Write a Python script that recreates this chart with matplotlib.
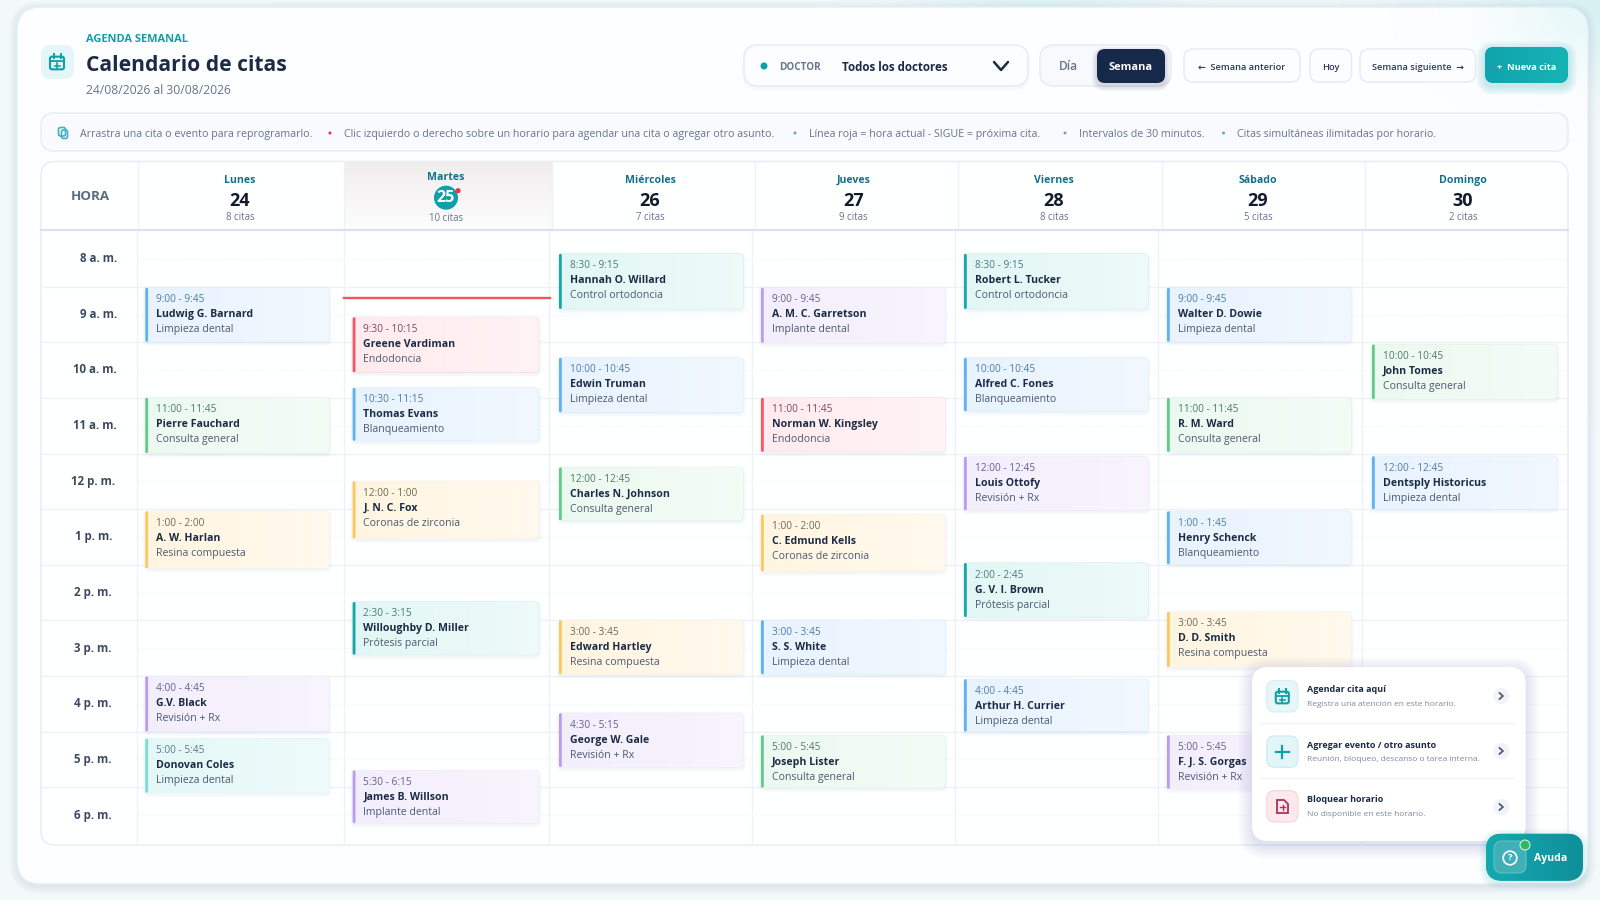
import numpy as np
import matplotlib
matplotlib.use("Agg")
import matplotlib.pyplot as plt
from matplotlib.patches import FancyBboxPatch, Circle, Polygon
from matplotlib.colors import LinearSegmentedColormap, to_rgb

plt.rcParams['font.family'] = ['Open Sans', 'DejaVu Sans']

# header of the week
day_names = ["Lunes", "Martes", "Miércoles", "Jueves", "Viernes", "Sábado", "Domingo"]
day_numbers = ["24", "25", "26", "27", "28", "29", "30"]
day_counts = ["8 citas", "10 citas", "7 citas", "9 citas", "8 citas", "5 citas", "2 citas"]
hour_labels = ["8 a. m.", "9 a. m.", "10 a. m.", "11 a. m.", "12 p. m.", "1 p. m.", "2 p. m.",
               "3 p. m.", "4 p. m.", "5 p. m.", "6 p. m."]

card_day = [0, 0, 0, 0, 0,
            1, 1, 1, 1, 1,
            2, 2, 2, 2, 2,
            3, 3, 3, 3, 3,
            4, 4, 4, 4, 4,
            5, 5, 5, 5, 5,
            6, 6]
card_time = ["9:00 - 9:45", "11:00 - 11:45", "1:00 - 2:00", "4:00 - 4:45", "5:00 - 5:45",
             "9:30 - 10:15", "10:30 - 11:15", "12:00 - 1:00", "2:30 - 3:15", "5:30 - 6:15",
             "8:30 - 9:15", "10:00 - 10:45", "12:00 - 12:45", "3:00 - 3:45", "4:30 - 5:15",
             "9:00 - 9:45", "11:00 - 11:45", "1:00 - 2:00", "3:00 - 3:45", "5:00 - 5:45",
             "8:30 - 9:15", "10:00 - 10:45", "12:00 - 12:45", "2:00 - 2:45", "4:00 - 4:45",
             "9:00 - 9:45", "11:00 - 11:45", "1:00 - 1:45", "3:00 - 3:45", "5:00 - 5:45",
             "10:00 - 10:45", "12:00 - 12:45"]
card_name = ["Ludwig G. Barnard", "Pierre Fauchard", "A. W. Harlan", "G.V. Black", "Donovan Coles",
             "Greene Vardiman", "Thomas Evans", "J. N. C. Fox", "Willoughby D. Miller", "James B. Willson",
             "Hannah O. Willard", "Edwin Truman", "Charles N. Johnson", "Edward Hartley", "George W. Gale",
             "A. M. C. Garretson", "Norman W. Kingsley", "C. Edmund Kells", "S. S. White", "Joseph Lister",
             "Robert L. Tucker", "Alfred C. Fones", "Louis Ottofy", "G. V. I. Brown", "Arthur H. Currier",
             "Walter D. Dowie", "R. M. Ward", "Henry Schenck", "D. D. Smith", "F. J. S. Gorgas",
             "John Tomes", "Dentsply Historicus"]
card_treatment = ["Limpieza dental", "Consulta general", "Resina compuesta", "Revisión + Rx", "Limpieza dental",
                  "Endodoncia", "Blanqueamiento", "Coronas de zirconia", "Prótesis parcial", "Implante dental",
                  "Control ortodoncia", "Limpieza dental", "Consulta general", "Resina compuesta", "Revisión + Rx",
                  "Implante dental", "Endodoncia", "Coronas de zirconia", "Limpieza dental", "Consulta general",
                  "Control ortodoncia", "Blanqueamiento", "Revisión + Rx", "Prótesis parcial", "Limpieza dental",
                  "Limpieza dental", "Consulta general", "Blanqueamiento", "Resina compuesta", "Revisión + Rx",
                  "Consulta general", "Limpieza dental"]
card_kind = ["blue", "green", "orange", "purple", "aqua",
             "red", "blue", "orange", "teal", "purple",
             "teal", "blue", "green", "orange", "purple",
             "purple", "red", "orange", "blue", "green",
             "teal", "blue", "purple", "teal", "blue",
             "blue", "green", "blue", "orange", "purple",
             "green", "blue"]
card_top = [9.02, 11.00, 13.04, 16.01, 17.13,
            9.55, 10.82, 12.50, 14.67, 17.70,
            8.41, 10.28, 12.25, 15.00, 16.67,
            9.02, 11.00, 13.10, 15.00, 17.07,
            8.41, 10.28, 12.06, 13.97, 16.06,
            9.02, 11.00, 13.04, 14.85, 17.07,
            10.04, 12.05]
card_bottom = [9.99, 11.99, 14.06, 17.00, 18.10,
               10.54, 11.77, 13.53, 15.62, 18.65,
               9.40, 11.26, 13.20, 15.97, 17.64,
               10.01, 11.97, 14.12, 15.97, 18.01,
               9.40, 11.24, 13.02, 14.94, 17.00,
               9.99, 11.97, 13.99, 15.84, 18.03,
               11.02, 13.00]
now_hour = 9.21

# context menu and hint bar
menu_titles = ["Agendar cita aquí", "Agregar evento / otro asunto", "Bloquear horario"]
menu_subtitles = ["Registra una atención en este horario.",
                  "Reunión, bloqueo, descanso o tarea interna.",
                  "No disponible en este horario."]
hint_texts = ["Arrastra una cita o evento para reprogramarlo.",
              "Clic izquierdo o derecho sobre un horario para agendar una cita o agregar otro asunto.",
              "Línea roja = hora actual - SIGUE = próxima cita.",
              "Intervalos de 30 minutos.",
              "Citas simultáneas ilimitadas por horario."]

# layout, in pixels of the 1600x900 picture
HEAD_X = [138, 344, 551.5, 755, 958, 1162, 1365, 1568]
BODY_X = [136.7, 343.7, 549, 752, 955, 1158, 1362]
DAY_CX = [240, 446, 650, 853.6, 1054, 1258, 1463]
CARD_X = [(145.3, 329), (352.7, 538.7), (559, 743), (761, 945), (964, 1148), (1167, 1351), (1372, 1557)]
HOUR_CX = [98.5, 98.5, 94.5, 94.5, 93.5, 93.5, 92.5, 92.5, 92.5, 92.5, 92.5]

STYLES = {
    "blue": ("#e8f3fe", "#62b2f2", "#4f7ba6"),
    "green": ("#ecf9f0", "#62cb8b", "#4f7a66"),
    "orange": ("#fff5e1", "#fcc860", "#6d6a55"),
    "purple": ("#f3eefc", "#bb9df0", "#66608f"),
    "teal": ("#e2f7f5", "#17a9a8", "#4a7a80"),
    "aqua": ("#e3f8f7", "#7edcd6", "#5a7a88"),
    "red": ("#ffebee", "#f4596a", "#7c4a5a"),
}
DARK = "#1c2b45"
GREY = "#66758c"
TEAL = "#0e9fa8"
LINE = "#eef2f8"
TEXT_DY = 1.5


def hour_y(h):
    return 286.7 + (h - 9) * 55.6


fig = plt.figure(figsize=(16, 9), dpi=100)
ax = fig.add_axes([0, 0, 1, 1])
ax.set_axis_off()


def box(x0, y0, x1, y1, r=8, fc="white", ec="none", lw=1, z=2, alpha=None):
    p = FancyBboxPatch((x0 + r, y0 + r), x1 - x0 - 2 * r, y1 - y0 - 2 * r,
                       boxstyle=f"round,pad={r},rounding_size={r}",
                       fc=fc, ec=ec, lw=lw, zorder=z, alpha=alpha)
    ax.add_patch(p)
    return p


def shadow(x0, y0, x1, y1, r=8, spread=6, dy=2, color="#6f8fb0", strength=0.012, z=2):
    for k in range(spread, 0, -1):
        box(x0 - k, y0 - k + dy, x1 + k, y1 + k + dy, r + k, fc=color, z=z, alpha=strength)


def label(x, y, s, size=8, color=DARK, weight="normal", ha="left", z=5, **kw):
    return ax.text(x, y + TEXT_DY, s, fontsize=size, color=color, fontweight=weight, ha=ha, va="center",
                   zorder=z, **kw)


def gradient_fill(patch, extent, c0, c1, z, vertical=False):
    cmap = LinearSegmentedColormap.from_list("g", [c0, c1])
    ramp = np.linspace(0, 1, 64)
    ramp = ramp[:, None] if vertical else ramp[None, :]
    im = ax.imshow(ramp, extent=extent, aspect="auto", cmap=cmap, zorder=z)
    im.set_clip_path(patch)


def lighter(c, amount):
    r = np.array(to_rgb(c))
    return tuple(r + (1 - r) * amount)


def calendar_icon(cx, cy, w, color, z=6):
    h = w * 1.05
    box(cx - w / 2, cy - h / 2 + 2, cx + w / 2, cy + h / 2, 2, fc="none", ec=color, lw=1.5, z=z)
    ax.plot([cx - w / 2, cx + w / 2], [cy - h / 2 + 6.5, cy - h / 2 + 6.5], color=color, lw=1.3, zorder=z)
    for dx in (-w / 4, w / 4):
        ax.plot([cx + dx, cx + dx], [cy - h / 2 - 0.5, cy - h / 2 + 3.5], color=color, lw=1.4, zorder=z)
    ax.plot([cx - 2.5, cx + 2.5], [cy + 3.5, cy + 3.5], color=color, lw=1.2, zorder=z)
    ax.plot([cx, cx], [cy + 1, cy + 6], color=color, lw=1.2, zorder=z)


# page background with the soft teal glows at the top
yy, xx = np.mgrid[0:900, 0:1600]
glow = np.exp(-(((xx - 1040) / 130.0) ** 2 + ((yy + 5) / 22.0) ** 2)) * 0.8
glow += np.exp(-(((xx - 1620) / 200.0) ** 2 + ((yy - 10) / 70.0) ** 2)) * 0.9
bg = np.array([0xf3, 0xf8, 0xfb]) * (1 - glow[..., None]) + np.array([0xd6, 0xf0, 0xf2]) * glow[..., None]
ax.imshow(bg.astype(np.uint8), extent=(0, 1600, 900, 0), aspect="auto", zorder=0)

# main panel
shadow(17, 7, 1588, 884, 24, spread=8, dy=2, strength=0.015, z=1)
panel = box(17, 7, 1588, 884, 24, fc="#fcfeff", ec="#e6eef5", lw=1, z=1.5)
corner = np.exp(-(((xx - 1590) / 90.0) ** 2 + ((yy - 10) / 60.0) ** 2)) * 0.55
tint = np.zeros((900, 1600, 4))
tint[..., :3] = np.array([0xd9, 0xf3, 0xf4]) / 255
tint[..., 3] = corner
im = ax.imshow(tint, extent=(0, 1600, 900, 0), aspect="auto", zorder=1.6)
im.set_clip_path(panel)

# title block
box(41, 45, 74, 79, 10, fc="#e4f6f8", z=3)
calendar_icon(57, 62, 14, TEAL)
label(86.5, 38, "AGENDA SEMANAL", 7.9, TEAL, "bold")
label(86.5, 64, "Calendario de citas", 15.1, DARK, "bold")
label(86.5, 88.5, "24/08/2026 al 30/08/2026", 8.7, GREY)

# doctor filter
shadow(744, 45, 1028, 86, 14, spread=3, strength=0.012)
box(744, 45, 1028, 86, 14, fc="#fcfdfe", ec="#e6ecf4", lw=1.1, z=3)
ax.add_patch(Circle((764, 66), 3.5, fc=TEAL, ec="none", zorder=5))
label(779.5, 65.5, "DOCTOR", 7.1, GREY, "bold")
label(842, 66, "Todos los doctores", 8.4, DARK, "bold")
ax.plot([994, 1001, 1008], [62, 70, 62], color=DARK, lw=1.8, zorder=5, solid_capstyle="round")

# day / week toggle
box(1040, 45, 1171, 86, 14, fc="#f7f9fc", ec="#e6ecf4", lw=1.1, z=3)
label(1068, 65.5, "Día", 8.6, GREY, "semibold", ha="center")
shadow(1097, 49, 1165, 83, 8, spread=5, dy=3, color="#1c2b45", strength=0.03, z=3)
box(1097, 49, 1165, 83, 8, fc="#16294a", z=4)
label(1131, 65.5, "Semana", 7.9, "white", "bold", ha="center")

# week navigation
for x0, x1, s in [(1184, 1300, "←  Semana anterior"), (1310, 1351.5, "Hoy"), (1360, 1475.5, "Semana siguiente  →")]:
    box(x0, 49, x1, 82, 9, fc="#fcfdfe", ec="#e6ecf4", lw=1.1, z=3)
    label((x0 + x1) / 2, 65.5, s, 6.7, "#2c3c55", "semibold", ha="center")

shadow(1485, 47, 1568, 83, 9, spread=9, dy=3, color=TEAL, strength=0.025, z=3)
new_btn = box(1485, 47, 1568, 83, 9, fc=TEAL, z=4)
gradient_fill(new_btn, (1485, 1568, 83, 47), "#10a4ac", "#16b3b6", 4.1)
label(1526.5, 65.5, "+  Nueva cita", 6.7, "white", "bold", ha="center")

# hint bar
box(41, 113, 1568, 151, 13, fc="#f8fafd", ec="#e8edf5", lw=1.1, z=3)
box(58.5, 127.5, 65.5, 136, 2, fc="none", ec="#3bb3c0", lw=1.2, z=5)
box(61.5, 130, 67.5, 138.5, 2, fc="none", ec="#3bb3c0", lw=1.2, z=5)
hint_x = [80, 344, 809, 1078.6, 1237]
dot_x = [330, 795, 1065, 1223.5]
dot_col = ["#e5354a", "#5fa8d8", "#5fa8d8", "#5fa8d8"]
for x, s in zip(hint_x, hint_texts):
    label(x, 133, s, 7.65, GREY)
for x, c in zip(dot_x, dot_col):
    ax.add_patch(Circle((x, 133), 1.5, fc=c, ec="none", zorder=5))

# calendar grid frame
grid = box(41, 161.5, 1568, 845, 14, fc="#feffff", ec="#e8eef5", lw=1.1, z=2)

# today column gets a soft grey wash in the header
gradient_fill(grid, (HEAD_X[1], HEAD_X[2], 230, 161.5), "#f1eded", "#fdfdfe", 2.1, vertical=True)

for x in HEAD_X[:-1]:
    ax.plot([x, x], [161.5, 230], color=LINE, lw=1, zorder=2.2)
for x in BODY_X:
    ax.plot([x, x], [230, 845], color=LINE, lw=1, zorder=2.2)
ax.plot([41, 1568], [230, 230], color="#d9e2ee", lw=1.6, zorder=2.3)
for i in range(10):
    ax.plot([41, 1568], [hour_y(9 + i)] * 2, color=LINE, lw=1, zorder=2.2)
for i in range(11):
    ax.plot([136.7, 1568], [hour_y(8.5 + i)] * 2, color="#f3f5f9", lw=0.8, ls=(0, (2, 2)), zorder=2.2)

label(90, 195.5, "HORA", 9.6, "#5b6b80", "bold", ha="center")
for i, name in enumerate(day_names):
    today = i == 1
    cx = DAY_CX[i]
    label(cx, 176.5 if today else 179, name, 7.6, "#12718a", "bold", ha="center")
    if today:
        ax.add_patch(Circle((cx, 197.7), 12, fc=TEAL, ec="none", zorder=4))
        label(cx, 196.5, day_numbers[i], 11.5, "white", "bold", ha="center")
        ax.add_patch(Circle((cx + 12, 190.7), 2.6, fc="#ef3340", ec="none", zorder=5))
    else:
        label(cx, 199, day_numbers[i], 13, "#0f1a2c", "bold", ha="center")
    label(cx, 217 if today else 216, day_counts[i], 6.9, GREY, ha="center")

for i, s in enumerate(hour_labels):
    label(HOUR_CX[i], 257 + i * 55.65, s, 8.3, "#3b4a60", "bold", ha="center")

# appointment cards
for day, t, name, treat, kind, top, bottom in zip(card_day, card_time, card_name, card_treatment,
                                                  card_kind, card_top, card_bottom):
    x0, x1 = CARD_X[day]
    y0, y1 = hour_y(top), hour_y(bottom)
    fc, accent, tc = STYLES[kind]
    shadow(x0, y0, x1, y1, 4, spread=3, dy=1.5, strength=0.022, z=3)
    card = box(x0, y0, x1, y1, 4, fc=fc, ec=lighter(accent, 0.75), lw=0.5, z=3.2)
    gradient_fill(card, (x0, x1, y1, y0), fc, lighter(fc, 0.4), 3.3)
    box(x0, y0, x0 + 2.8, y1, 1.3, fc=accent, z=3.4)
    label(x0 + 10.6, y0 + 10.5, t, 7.3, tc, z=4)
    label(x0 + 10.6, y0 + 25.5, name, 7.6, DARK, "bold", z=4)
    label(x0 + 10.6, y0 + 40.5, treat, 7.6, "#4c5a70", z=4)

ax.plot([344, 550], [hour_y(now_hour)] * 2, color="#f4525d", lw=1.7, zorder=4)

# context menu
shadow(1252, 667, 1525.7, 841, 16, spread=14, dy=4, strength=0.012, z=6)
box(1252, 667, 1525.7, 841, 16, fc="white", z=7)
icon_top = [680.7, 736, 790.7]
title_y = [688, 743.5, 798.5]
sub_y = [702.5, 758, 813.5]
arrow_y = [696, 751, 807]
icon_fc = ["#e6f6f9", "#e2f5f7", "#fde8ec"]
icon_ec = ["#d5eff3", "#c9ebf0", "#f8d4da"]
for i in range(3):
    box(1266.7, icon_top[i], 1298, icon_top[i] + 31.3, 8, fc=icon_fc[i], ec=icon_ec[i], lw=0.8, z=8)
    label(1307, title_y[i], menu_titles[i], 6.5, DARK, "bold", z=9)
    label(1307, sub_y[i], menu_subtitles[i], 6.0, "#7d8aa0", z=9)
    ax.add_patch(Circle((1501.3, arrow_y[i]), 8, fc="#f1f3f8", ec="none", zorder=8))
    ax.plot([1499.5, 1503, 1499.5], [arrow_y[i] - 3, arrow_y[i], arrow_y[i] + 3], color="#45536a",
            lw=1.2, zorder=9)
for y in (723, 777.7):
    ax.plot([1260, 1512.7], [y, y], color="#f0f3f7", lw=1, zorder=8)
calendar_icon(1282.3, 696.5, 13, TEAL, z=9)
ax.plot([1276, 1288.5], [751.5, 751.5], color=TEAL, lw=1.6, zorder=9)
ax.plot([1282.3, 1282.3], [745.5, 757.5], color=TEAL, lw=1.6, zorder=9)
ax.add_patch(Polygon([(1277, 800), (1284, 800), (1288, 804), (1288, 813), (1277, 813)], closed=True,
                     fc="none", ec="#a8345f", lw=1.3, zorder=9))
ax.plot([1280, 1285], [807, 807], color="#a8345f", lw=1, zorder=9)
ax.plot([1282.5, 1282.5], [804.5, 809.5], color="#a8345f", lw=1, zorder=9)

# help button
shadow(1486, 833.7, 1583, 880.7, 16, spread=7, dy=2, color=TEAL, strength=0.02, z=9)
help_btn = box(1486, 833.7, 1583, 880.7, 16, fc="#119aa5", z=10)
gradient_fill(help_btn, (1486, 1583, 880.7, 833.7), "#15a9b0", "#0f8f9a", 10.1)
box(1494, 841, 1526, 873, 8, fc="#3fb0b8", ec="#62c0c6", lw=0.8, z=11)
ax.add_patch(Circle((1510, 858), 6.8, fc="none", ec="white", lw=1.2, zorder=12))
label(1510, 856.5, "?", 6.8, "white", "bold", ha="center", z=13)
ax.add_patch(Circle((1525, 845), 5, fc="#2fb964", ec="#e7f7ec", lw=0.7, zorder=12))
label(1551, 856.5, "Ayuda", 7.6, "white", "bold", ha="center", z=12)

ax.set_xlim(0, 1600)
ax.set_ylim(900, 0)

fig.savefig("out.png", dpi=100)
